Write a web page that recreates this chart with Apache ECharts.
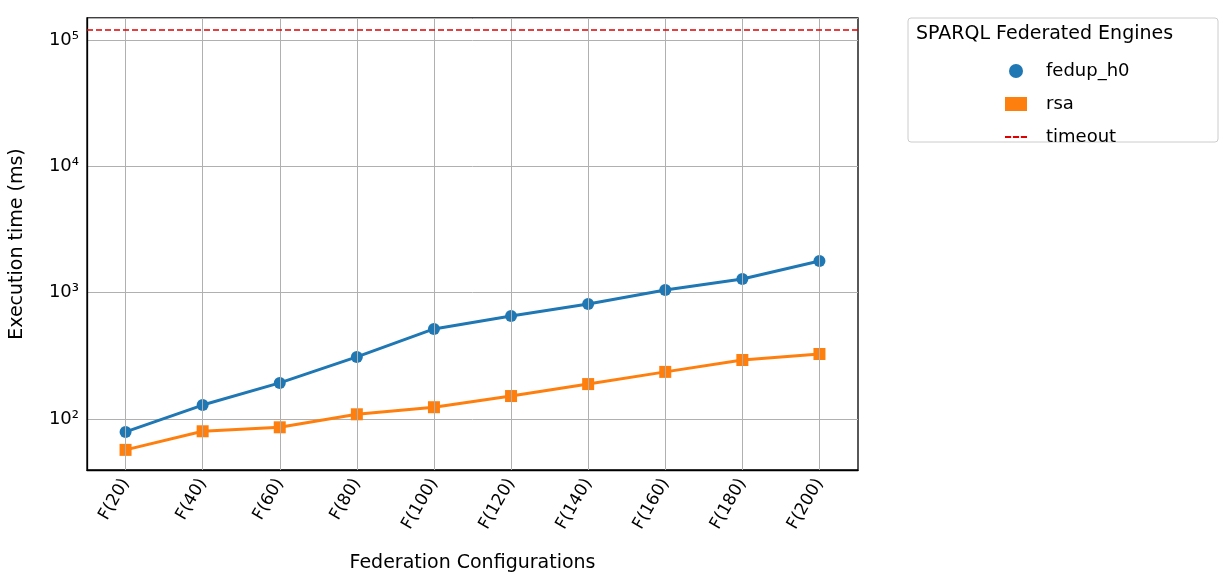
<!DOCTYPE html>
<html>
<head>
<meta charset="utf-8">
<script src="https://cdn.jsdelivr.net/npm/echarts@6/dist/echarts.min.js"></script>
<style>html,body{margin:0;padding:0;background:#fff}#c{width:1227px;height:586px}</style>
</head>
<body>
<div id="c"></div>
<script>
var categories = ['F(20)', 'F(40)', 'F(60)', 'F(80)', 'F(100)', 'F(120)', 'F(140)', 'F(160)', 'F(180)', 'F(200)'];
var fedupValues = [79, 129, 193, 310, 516, 654, 814, 1050, 1283, 1782];
var rsaValues = [57, 80, 86, 109, 124, 152, 189, 236, 293, 327];
var timeoutValue = 120000;
var supDigits = { '2': '²', '3': '³', '4': '⁴', '5': '⁵' };

var font = 'DejaVu Sans';
var chart = echarts.init(document.getElementById('c'));

// vertical grid lines at each category
var vLines = categories.map(function (c) { return { xAxis: c }; });

chart.setOption({
    animation: false,
    textStyle: { fontFamily: font },
    grid: { left: 84, right: 369, top: 18, bottom: 116, show: true, borderColor: '#000', borderWidth: 1.3 },
    xAxis: {
        type: 'category',
        data: categories,
        name: 'Federation Configurations',
        nameLocation: 'middle',
        nameGap: 84,
        nameTextStyle: { fontSize: 19, color: '#000' },
        axisLine: { lineStyle: { color: '#000', width: 1.3 } },
        axisTick: { alignWithLabel: true, length: 7, lineStyle: { color: '#000' } },
        axisLabel: { rotate: 60, fontSize: 17, color: '#000', margin: 10 },
        splitLine: { show: false }
    },
    yAxis: {
        type: 'log',
        logBase: 10,
        min: 39.5,
        max: 149000,
        name: 'Execution time (ms)',
        nameLocation: 'middle',
        nameGap: 60,
        nameTextStyle: { fontSize: 19, color: '#000' },
        axisLine: { show: true, lineStyle: { color: '#000', width: 1.3 } },
        axisTick: { length: 7, lineStyle: { color: '#000' } },
        axisLabel: {
            showMinLabel: false, showMaxLabel: false, fontSize: 18, color: '#000',
            formatter: function (v) {
                var e = Math.round(Math.log10(v));
                return '10' + (supDigits[String(e)] || e);
            }
        },
        splitLine: { show: true, lineStyle: { color: '#b0b0b0', width: 1 } }
    },
    legend: {
        orient: 'vertical',
        left: 1000,
        top: 57,
        itemWidth: 22,
        itemHeight: 14,
        itemGap: 15,
        textStyle: { fontSize: 18, color: '#000', padding: [0, 0, 0, 14] },
        data: [
            { name: 'fedup_h0', icon: 'circle' },
            { name: 'rsa', icon: 'rect' },
            { name: 'timeout', icon: 'path://M0,6h7v2h-7z M9,6h7v2h-7z M18,6h7v2h-7z' }
        ]
    },
    graphic: [
        { type: 'rect', shape: { x: 908, y: 18, width: 310, height: 124, r: 3 }, style: { fill: '#fff', stroke: '#ccc', lineWidth: 1 }, z: -1 },
        { type: 'text', left: 916, top: 25, style: { text: 'SPARQL Federated Engines', fontSize: 19, fontFamily: font, fill: '#000' } }
    ],
    series: [
        {
            name: 'grid', type: 'line', data: [], silent: true,
            markLine: { silent: true, symbol: 'none', label: { show: false }, lineStyle: { color: '#b0b0b0', width: 1, type: 'solid' }, data: vLines },
            z: 1
        },
        {
            name: 'fedup_h0', type: 'line', data: fedupValues, symbol: 'circle', symbolSize: 12,
            lineStyle: { width: 3, color: '#1f77b4' }, itemStyle: { color: '#1f77b4' }, z: 3
        },
        {
            name: 'rsa', type: 'line', data: rsaValues, symbol: 'rect', symbolSize: 12,
            lineStyle: { width: 3, color: '#ff7f0e' }, itemStyle: { color: '#ff7f0e' }, z: 3
        },
        {
            name: 'timeout', type: 'line', data: [], itemStyle: { color: '#e00000' },
            markLine: { silent: true, symbol: 'none', label: { show: false }, lineStyle: { color: '#e00000', width: 1.6, type: [6, 3] }, data: [{ yAxis: timeoutValue }] }
        }
    ]
});
</script>
</body>
</html>
